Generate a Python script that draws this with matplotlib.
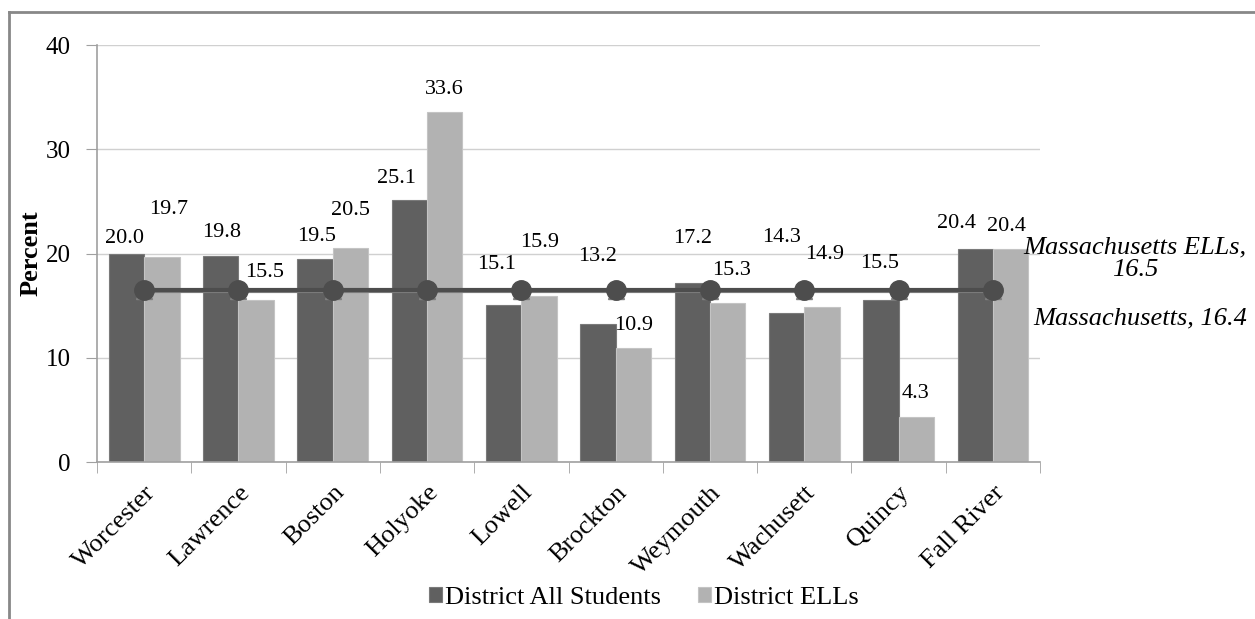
import matplotlib
matplotlib.use("Agg")
import matplotlib.pyplot as plt
from matplotlib.lines import Line2D
import numpy as np

plt.rcParams['font.family'] = ['Liberation Serif', 'DejaVu Serif']

districts = ["Worcester", "Lawrence", "Boston", "Holyoke", "Lowell",
             "Brockton", "Weymouth", "Wachusett", "Quincy", "Fall River"]
all_students = [20.0, 19.8, 19.5, 25.1, 15.1, 13.2, 17.2, 14.3, 15.5, 20.4]
ells = [19.7, 15.5, 20.5, 33.6, 15.9, 10.9, 15.3, 14.9, 4.3, 20.4]
ma_all = 16.4
ma_ells = 16.5

# label offsets in pixels (Excel moved them around the line)
off_all = [(-2, 15), (1, 23), (2, 22), (-13, 22), (-7, 40),
           (0, 68), (0, 44), (-5, 75), (-1, 37), (-19, 26)]
off_ells = [(7, 47), (8, 28), (0, 38), (0, 22), (1, 54),
            (0, 23), (4, 32), (3, 52), (-1, 24), (-4, 23)]

dark = "#606060"
light = "#b2b2b2"

fig = plt.figure(figsize=(12.55, 6.19), dpi=100)
ax = fig.add_axes([0.0773, 0.2536, 0.7514, 0.6737])

x = np.arange(len(districts))
w = 0.375
b1 = ax.bar(x - w / 2, all_students, w, color=dark, edgecolor="#7a7a7a",
            linewidth=0.8, label="District All Students", zorder=2)
b2 = ax.bar(x + w / 2, ells, w, color=light, edgecolor="#c4c4c4",
            linewidth=0.8, label="District ELLs", zorder=2)

ax.plot(x, [ma_all] * len(x), color="#7f7f7f", lw=3, marker="^",
        markersize=12, zorder=3)
ax.plot(x, [ma_ells] * len(x), color="#4d4d4d", lw=3, marker="o",
        markersize=14, zorder=4)

for i in range(len(x)):
    ax.annotate(f"{all_students[i]:.1f}", (x[i] - w / 2, all_students[i]),
                xytext=off_all[i], textcoords="offset pixels",
                ha="center", va="center", fontsize=16, zorder=5)
    ax.annotate(f"{ells[i]:.1f}", (x[i] + w / 2, ells[i]),
                xytext=off_ells[i], textcoords="offset pixels",
                ha="center", va="center", fontsize=16, zorder=5)

ax.annotate(f"Massachusetts ELLs,\n{ma_ells}", (x[-1], ma_ells),
            xytext=(142, 31), textcoords="offset pixels", ha="center",
            va="center", fontsize=19, style="italic", annotation_clip=False,
            linespacing=1.05)
ax.annotate(f"Massachusetts, {ma_all}", (x[-1], ma_all),
            xytext=(147, -27), textcoords="offset pixels", ha="center",
            va="center", fontsize=19, style="italic", annotation_clip=False)

ax.set_xlim(-0.5, len(x) - 0.5)
ax.set_ylim(0, 40)
ax.set_yticks([0, 10, 20, 30, 40])
ax.yaxis.grid(True, color="#d0d0d0", lw=1)
ax.set_axisbelow(True)
ax.tick_params(axis="y", labelsize=18, length=8, color="#a0a0a0", pad=11)
ax.set_xticks(x)
ax.set_xticklabels(districts, rotation=45, ha="right", rotation_mode="anchor",
                   fontsize=19)
ax.set_xticks(np.arange(len(x) + 1) - 0.5, minor=True)
ax.tick_params(axis="x", which="major", length=0, pad=14)
ax.tick_params(axis="x", which="minor", length=8, color="#a0a0a0")
for s in ["top", "right"]:
    ax.spines[s].set_visible(False)
for s in ["left", "bottom"]:
    ax.spines[s].set_color("#a0a0a0")
    ax.spines[s].set_linewidth(1.2)
ax.set_ylabel("Percent", fontsize=19, fontweight="bold", labelpad=2)

fig.legend(handles=[b1, b2], loc="center", bbox_to_anchor=(0.513, 0.034),
           ncol=2, frameon=False, fontsize=19, handlelength=0.5,
           handleheight=0.5, handletextpad=0.12, columnspacing=1.4)

# outer chart border
fig.add_artist(Line2D([9 / 1255, 1], [1 - 12 / 619, 1 - 12 / 619],
                      color="#888888", lw=2, transform=fig.transFigure))
fig.add_artist(Line2D([9 / 1255, 9 / 1255], [0, 1 - 12 / 619],
                      color="#888888", lw=2, transform=fig.transFigure))

fig.savefig("out.png", dpi=100)
